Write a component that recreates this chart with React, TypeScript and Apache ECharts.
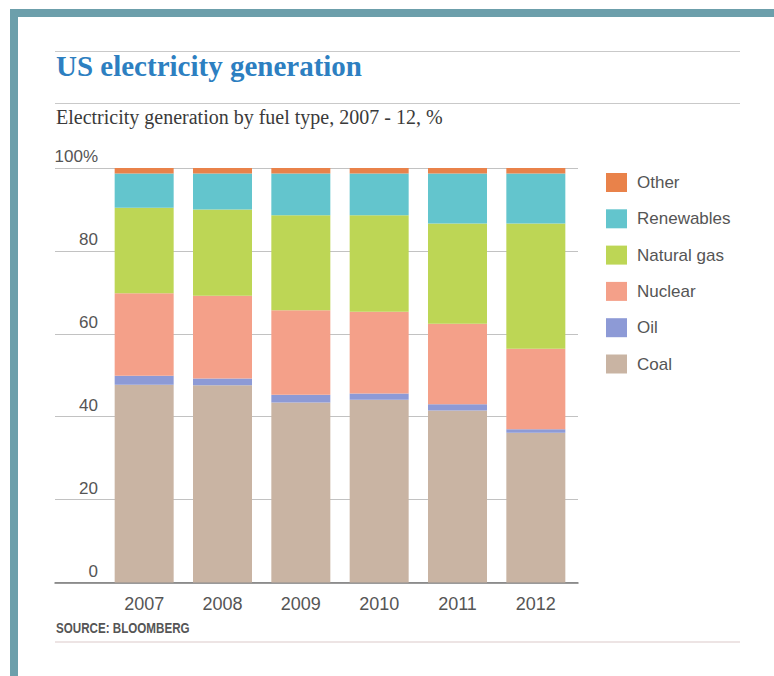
import React, { useEffect, useRef } from "react";
import * as echarts from "echarts";

const years = ["2007", "2008", "2009", "2010", "2011", "2012"];
const coal = [47.7, 47.6, 43.4, 44.1, 41.5, 36.1];
const oil = [2.2, 1.6, 1.9, 1.5, 1.5, 0.9];
const nuclear = [19.9, 20.0, 20.4, 19.7, 19.4, 19.4];
const naturalGas = [20.6, 20.8, 22.9, 23.3, 24.2, 30.2];
const renewables = [8.3, 8.7, 10.1, 10.1, 12.1, 12.1];
const other = [1.3, 1.3, 1.3, 1.3, 1.3, 1.3];
const legendOrder = ["Other", "Renewables", "Natural gas", "Nuclear", "Oil", "Coal"];

const COLORS: Record<string, string> = {
  Coal: "#c9b4a3",
  Oil: "#8d9ad6",
  Nuclear: "#f4a089",
  "Natural gas": "#bdd655",
  Renewables: "#63c5cd",
  Other: "#e9824a",
};

const seriesDefs: [string, number[]][] = [
  ["Coal", coal],
  ["Oil", oil],
  ["Nuclear", nuclear],
  ["Natural gas", naturalGas],
  ["Renewables", renewables],
  ["Other", other],
];

export default function App() {
  const ref = useRef<HTMLDivElement>(null);
  useEffect(() => {
    if (!ref.current) return;
    const chart = echarts.init(ref.current, null, { renderer: "svg" });
    const sans = "'Liberation Sans', Arial, sans-serif";
    const serif = "'Liberation Serif', 'Times New Roman', serif";
    chart.setOption({
      animation: false,
      backgroundColor: "#ffffff",
      grid: [
        { left: 105, right: 199, top: 168, bottom: 93.5 },
        { left: 55, right: 196, top: 168, bottom: 93.5 },
      ],
      xAxis: [
        {
          type: "category",
          gridIndex: 0,
          data: years,
          axisLine: { show: false },
          axisTick: { show: false },
          axisLabel: { color: "#555", fontSize: 18, fontFamily: sans, margin: 12 },
        },
        {
          type: "value",
          gridIndex: 1,
          min: 0,
          max: 1,
          axisLine: { show: true, lineStyle: { color: "#7a7a7a", width: 1.5 } },
          axisTick: { show: false },
          axisLabel: { show: false },
          splitLine: { show: false },
        },
      ],
      yAxis: [
        {
          type: "value",
          gridIndex: 0,
          min: 0,
          max: 100,
          interval: 20,
          axisLine: { show: false },
          axisTick: { show: false },
          splitLine: { show: false },
          axisLabel: {
            color: "#555",
            fontSize: 17,
            fontFamily: sans,
            margin: 7,
            verticalAlign: "bottom",
            padding: [0, 0, 3, 0],
            formatter: (v: number) => (v === 100 ? "100%" : String(v)),
          },
        },
        {
          type: "value",
          gridIndex: 1,
          min: 0,
          max: 100,
          interval: 20,
          axisLine: { show: false },
          axisTick: { show: false },
          axisLabel: { show: false },
          splitLine: { show: true, lineStyle: { color: "#c2c2c2", width: 1.2 } },
        },
      ],
      legend: {
        orient: "vertical",
        left: 606,
        top: 173,
        padding: 0,
        itemWidth: 21,
        itemHeight: 19,
        itemGap: 17.3,
        icon: "rect",
        data: legendOrder,
        selectedMode: false,
        textStyle: { color: "#555", fontSize: 17, fontFamily: sans, padding: [0, 0, 0, 5] },
      },
      series: seriesDefs.map(([name, values]) => ({
        name,
        type: "bar",
        stack: "total",
        xAxisIndex: 0,
        yAxisIndex: 0,
        barWidth: 59,
        data: values,
        itemStyle: { color: COLORS[name] },
      })),
      graphic: [
        {
          type: "rect",
          shape: { x: 14, y: 13, width: 820, height: 720 },
          style: { fill: "none", stroke: "#6c9fab", lineWidth: 8 },
          silent: true,
        },
        {
          type: "line",
          shape: { x1: 55, y1: 51.5, x2: 740, y2: 51.5 },
          style: { stroke: "#c9c9c9", lineWidth: 1.2 },
        },
        {
          type: "line",
          shape: { x1: 55, y1: 103.5, x2: 740, y2: 103.5 },
          style: { stroke: "#c9c9c9", lineWidth: 1.2 },
        },
        {
          type: "line",
          shape: { x1: 55, y1: 642, x2: 740, y2: 642 },
          style: { stroke: "#dccaca", lineWidth: 1.2 },
        },
        {
          type: "text",
          x: 56,
          y: 66,
          style: {
            text: "US electricity generation",
            fill: "#2d7fc1",
            fontSize: 29,
            fontWeight: "bold",
            fontFamily: serif,
            verticalAlign: "middle",
          },
        },
        {
          type: "text",
          x: 56,
          y: 117,
          style: {
            text: "Electricity generation by fuel type, 2007 - 12, %",
            fill: "#3a3a3a",
            fontSize: 20,
            fontFamily: serif,
            verticalAlign: "middle",
          },
        },
        {
          type: "text",
          x: 56,
          y: 628,
          scaleX: 0.83,
          style: {
            text: "SOURCE: BLOOMBERG",
            fill: "#555",
            fontSize: 14,
            fontWeight: "bold",
            fontFamily: sans,
            verticalAlign: "middle",
          },
        },
      ],
    });
    return () => chart.dispose();
  }, []);
  return (
    <div
      ref={ref}
      style={{ position: "fixed", left: 0, top: 0, width: 774, height: 676, background: "#fff" }}
    />
  );
}
